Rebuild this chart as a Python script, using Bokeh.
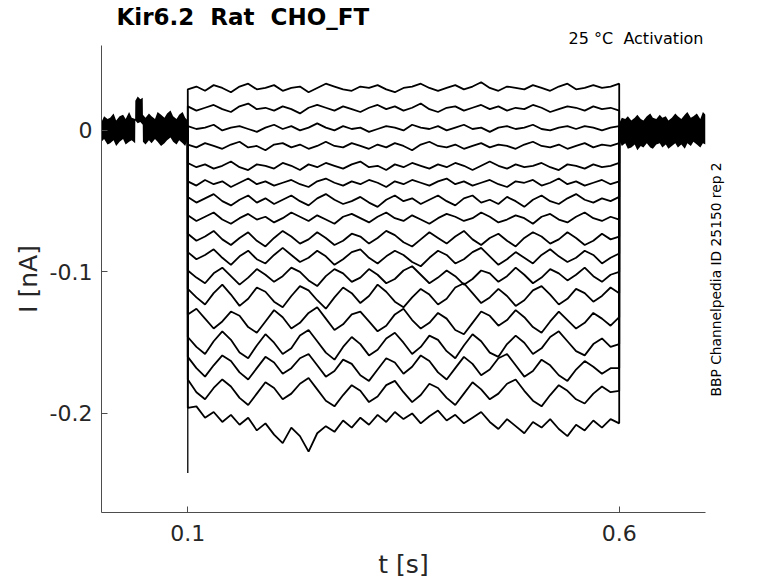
import numpy as np
from bokeh.embed import file_html
from bokeh.models import ColumnDataSource, FixedTicker, LinearAxis, Range1d, Title
from bokeh.plotting import figure
from bokeh.resources import INLINE

# time base of the voltage step (s)
step_t = [round(0.10 + 0.01 * k, 2) for k in range(51)]
step_on = 0.1
step_off = 0.6
onset_peak = -0.242

# holding current before the step: band edges (nA)
pre_t = [0.000, 0.003, 0.007, 0.010, 0.014, 0.017, 0.021, 0.025, 0.028, 0.032,
         0.035, 0.0390, 0.0392, 0.0420, 0.0450, 0.0478, 0.0480, 0.051, 0.055, 0.058,
         0.062, 0.065, 0.069, 0.073, 0.076, 0.080, 0.083, 0.087, 0.090, 0.094,
         0.097, 0.100]
pre_hi = [0.006, 0.010, 0.008, 0.009, 0.012, 0.007, 0.010, 0.011, 0.008, 0.013,
          0.009, 0.008, 0.021, 0.024, 0.022, 0.023, 0.011, 0.009, 0.012, 0.010,
          0.008, 0.013, 0.011, 0.009, 0.012, 0.014, 0.010, 0.008, 0.011, 0.013,
          0.009, 0.007]
pre_lo = [-0.008, -0.006, -0.010, -0.009, -0.007, -0.011, -0.008, -0.006, -0.010, -0.008,
          -0.007, -0.009, 0.007, 0.005, 0.006, 0.004, -0.008, -0.010, -0.007, -0.009,
          -0.006, -0.008, -0.011, -0.009, -0.007, -0.005, -0.008, -0.010, -0.007, -0.009,
          -0.011, -0.006]

# holding current after the step: band edges (nA)
post_t = [0.600, 0.603, 0.607, 0.610, 0.614, 0.618, 0.621, 0.625, 0.628, 0.632,
          0.636, 0.639, 0.643, 0.647, 0.650, 0.654, 0.657, 0.661, 0.665, 0.668,
          0.672, 0.676, 0.679, 0.683, 0.686, 0.690, 0.694, 0.697, 0.700]
post_hi = [0.005, 0.009, 0.008, 0.010, 0.007, 0.009, 0.011, 0.008, 0.007, 0.010,
           0.012, 0.009, 0.008, 0.011, 0.009, 0.010, 0.007, 0.009, 0.012, 0.010,
           0.008, 0.011, 0.013, 0.009, 0.010, 0.012, 0.008, 0.013, 0.011]
post_lo = [-0.007, -0.011, -0.009, -0.013, -0.012, -0.010, -0.014, -0.011, -0.012, -0.009,
           -0.012, -0.013, -0.010, -0.009, -0.012, -0.010, -0.013, -0.011, -0.009, -0.012,
           -0.010, -0.013, -0.009, -0.011, -0.008, -0.010, -0.012, -0.009, -0.010]

# current during the step, one sweep per test potential (nA)
i_step_01 = [0.029, 0.031, 0.028, 0.032, 0.030, 0.027, 0.031, 0.033, 0.029, 0.030,
             0.032, 0.028, 0.030, 0.031, 0.027, 0.030, 0.033, 0.031, 0.029, 0.028,
             0.031, 0.030, 0.032, 0.029, 0.027, 0.030, 0.031, 0.033, 0.030, 0.028,
             0.030, 0.032, 0.029, 0.031, 0.034, 0.030, 0.028, 0.031, 0.030, 0.029,
             0.032, 0.030, 0.028, 0.031, 0.033, 0.029, 0.030, 0.032, 0.030, 0.031, 0.033]
i_step_02 = [0.017, 0.014, 0.016, 0.018, 0.015, 0.013, 0.017, 0.019, 0.015, 0.016,
             0.014, 0.017, 0.015, 0.012, 0.016, 0.018, 0.016, 0.014, 0.017, 0.015,
             0.013, 0.016, 0.018, 0.015, 0.017, 0.014, 0.016, 0.019, 0.015, 0.013,
             0.016, 0.017, 0.014, 0.016, 0.018, 0.015, 0.017, 0.014, 0.016, 0.015,
             0.018, 0.016, 0.013, 0.015, 0.017, 0.016, 0.014, 0.017, 0.015, 0.016, 0.014]
i_step_03 = [0.003, 0.001, 0.002, 0.004, 0.000, 0.002, 0.003, 0.001, -0.001, 0.002,
             0.004, 0.001, 0.003, 0.000, 0.002, 0.005, 0.002, 0.000, 0.003, 0.001,
             0.002, -0.001, 0.001, 0.003, 0.002, 0.000, 0.004, 0.002, 0.001, 0.003,
             0.000, 0.002, 0.004, 0.001, 0.002, -0.001, 0.002, 0.003, 0.001, 0.002,
             0.004, 0.001, 0.000, 0.002, 0.003, 0.001, 0.003, 0.002, 0.000, 0.002, 0.003]
i_step_04 = [-0.010, -0.012, -0.009, -0.011, -0.013, -0.010, -0.008, -0.012, -0.011, -0.014,
             -0.010, -0.009, -0.012, -0.010, -0.013, -0.011, -0.008, -0.011, -0.012, -0.009,
             -0.011, -0.013, -0.010, -0.012, -0.009, -0.011, -0.014, -0.010, -0.008, -0.011,
             -0.012, -0.010, -0.013, -0.011, -0.009, -0.012, -0.010, -0.011, -0.013, -0.010,
             -0.008, -0.011, -0.012, -0.010, -0.013, -0.011, -0.009, -0.012, -0.010, -0.011, -0.009]
i_step_05 = [-0.023, -0.026, -0.024, -0.027, -0.025, -0.022, -0.026, -0.028, -0.024, -0.025,
             -0.027, -0.023, -0.025, -0.028, -0.024, -0.026, -0.023, -0.025, -0.027, -0.024,
             -0.022, -0.026, -0.025, -0.028, -0.024, -0.026, -0.023, -0.025, -0.027, -0.024,
             -0.026, -0.023, -0.025, -0.028, -0.025, -0.022, -0.025, -0.027, -0.024, -0.026,
             -0.025, -0.023, -0.026, -0.028, -0.024, -0.025, -0.027, -0.024, -0.026, -0.025, -0.023]
i_step_06 = [-0.036, -0.039, -0.035, -0.038, -0.036, -0.040, -0.037, -0.034, -0.038, -0.036,
             -0.039, -0.037, -0.035, -0.038, -0.040, -0.036, -0.034, -0.037, -0.039, -0.036,
             -0.038, -0.035, -0.037, -0.040, -0.036, -0.038, -0.035, -0.037, -0.039, -0.036,
             -0.034, -0.038, -0.036, -0.039, -0.037, -0.035, -0.038, -0.040, -0.036, -0.037,
             -0.035, -0.039, -0.037, -0.034, -0.038, -0.036, -0.039, -0.037, -0.035, -0.038, -0.036]
i_step_07 = [-0.047, -0.051, -0.048, -0.045, -0.050, -0.053, -0.049, -0.046, -0.051, -0.048,
             -0.052, -0.049, -0.046, -0.050, -0.053, -0.048, -0.045, -0.049, -0.052, -0.050,
             -0.047, -0.051, -0.054, -0.049, -0.046, -0.050, -0.048, -0.052, -0.049, -0.046,
             -0.050, -0.053, -0.048, -0.046, -0.051, -0.049, -0.052, -0.047, -0.050, -0.054,
             -0.049, -0.046, -0.050, -0.052, -0.048, -0.045, -0.049, -0.051, -0.048, -0.050, -0.047]
i_step_08 = [-0.060, -0.064, -0.061, -0.058, -0.063, -0.066, -0.062, -0.059, -0.063, -0.061,
             -0.065, -0.062, -0.058, -0.061, -0.064, -0.060, -0.063, -0.066, -0.061, -0.059,
             -0.062, -0.065, -0.061, -0.058, -0.062, -0.064, -0.060, -0.063, -0.066, -0.062,
             -0.059, -0.061, -0.064, -0.062, -0.058, -0.061, -0.065, -0.063, -0.060, -0.062,
             -0.066, -0.061, -0.059, -0.063, -0.065, -0.061, -0.058, -0.062, -0.064, -0.061, -0.063]
i_step_09 = [-0.073, -0.078, -0.075, -0.071, -0.077, -0.081, -0.076, -0.072, -0.078, -0.082,
             -0.076, -0.071, -0.075, -0.080, -0.077, -0.072, -0.076, -0.081, -0.078, -0.073,
             -0.075, -0.080, -0.076, -0.071, -0.074, -0.079, -0.082, -0.077, -0.072, -0.076,
             -0.080, -0.075, -0.071, -0.077, -0.081, -0.076, -0.073, -0.078, -0.082, -0.076,
             -0.072, -0.075, -0.080, -0.077, -0.072, -0.076, -0.081, -0.078, -0.073, -0.077, -0.075]
i_step_10 = [-0.086, -0.091, -0.088, -0.084, -0.090, -0.095, -0.089, -0.085, -0.091, -0.094,
             -0.088, -0.083, -0.088, -0.093, -0.090, -0.085, -0.089, -0.095, -0.091, -0.086,
             -0.084, -0.090, -0.094, -0.089, -0.085, -0.088, -0.093, -0.096, -0.090, -0.085,
             -0.088, -0.094, -0.091, -0.086, -0.083, -0.089, -0.095, -0.091, -0.086, -0.090,
             -0.094, -0.088, -0.084, -0.089, -0.093, -0.090, -0.085, -0.088, -0.094, -0.090, -0.087]
i_step_11 = [-0.099, -0.104, -0.108, -0.101, -0.097, -0.103, -0.109, -0.104, -0.098, -0.102,
             -0.107, -0.103, -0.097, -0.100, -0.106, -0.110, -0.103, -0.098, -0.101, -0.107,
             -0.104, -0.098, -0.102, -0.108, -0.105, -0.099, -0.096, -0.102, -0.108, -0.104,
             -0.099, -0.103, -0.109, -0.105, -0.099, -0.101, -0.107, -0.103, -0.097, -0.102,
             -0.108, -0.104, -0.098, -0.101, -0.106, -0.102, -0.097, -0.103, -0.107, -0.102, -0.100]
i_step_12 = [-0.112, -0.118, -0.123, -0.115, -0.109, -0.116, -0.124, -0.119, -0.111, -0.114,
             -0.121, -0.125, -0.117, -0.110, -0.113, -0.120, -0.126, -0.118, -0.111, -0.115,
             -0.122, -0.117, -0.109, -0.114, -0.121, -0.125, -0.118, -0.112, -0.116, -0.123,
             -0.119, -0.111, -0.108, -0.115, -0.122, -0.118, -0.112, -0.117, -0.124, -0.120,
             -0.113, -0.110, -0.116, -0.123, -0.119, -0.112, -0.115, -0.121, -0.117, -0.111, -0.115]
i_step_13 = [-0.130, -0.126, -0.133, -0.140, -0.135, -0.128, -0.131, -0.139, -0.143, -0.135,
             -0.127, -0.132, -0.140, -0.136, -0.129, -0.125, -0.133, -0.141, -0.137, -0.130,
             -0.128, -0.135, -0.142, -0.138, -0.130, -0.126, -0.134, -0.140, -0.136, -0.129,
             -0.133, -0.141, -0.144, -0.136, -0.128, -0.131, -0.138, -0.134, -0.127, -0.132,
             -0.139, -0.143, -0.135, -0.128, -0.134, -0.140, -0.136, -0.129, -0.133, -0.138, -0.132]
i_step_14 = [-0.146, -0.153, -0.158, -0.149, -0.142, -0.148, -0.157, -0.161, -0.152, -0.144,
             -0.150, -0.158, -0.154, -0.145, -0.141, -0.149, -0.157, -0.162, -0.153, -0.146,
             -0.151, -0.159, -0.155, -0.147, -0.143, -0.150, -0.158, -0.153, -0.145, -0.148,
             -0.156, -0.161, -0.152, -0.144, -0.149, -0.157, -0.160, -0.151, -0.145, -0.150,
             -0.158, -0.154, -0.146, -0.142, -0.149, -0.156, -0.159, -0.151, -0.147, -0.153, -0.151]
i_step_15 = [-0.160, -0.168, -0.174, -0.166, -0.159, -0.163, -0.171, -0.176, -0.168, -0.160,
             -0.164, -0.172, -0.168, -0.161, -0.158, -0.166, -0.174, -0.170, -0.162, -0.165,
             -0.173, -0.177, -0.169, -0.161, -0.164, -0.172, -0.167, -0.159, -0.163, -0.171,
             -0.176, -0.168, -0.160, -0.165, -0.173, -0.169, -0.161, -0.158, -0.166, -0.174,
             -0.170, -0.162, -0.166, -0.173, -0.177, -0.169, -0.163, -0.167, -0.172, -0.168, -0.168]
i_step_16 = [-0.176, -0.185, -0.190, -0.182, -0.176, -0.181, -0.189, -0.194, -0.186, -0.178,
             -0.182, -0.190, -0.186, -0.179, -0.175, -0.183, -0.191, -0.195, -0.187, -0.180,
             -0.184, -0.192, -0.188, -0.180, -0.177, -0.185, -0.192, -0.187, -0.179, -0.182,
             -0.189, -0.194, -0.186, -0.178, -0.183, -0.190, -0.186, -0.179, -0.176, -0.184,
             -0.191, -0.195, -0.187, -0.180, -0.184, -0.190, -0.193, -0.186, -0.181, -0.185, -0.184]
i_step_17 = [-0.196, -0.195, -0.203, -0.199, -0.206, -0.201, -0.208, -0.203, -0.212, -0.207,
             -0.215, -0.221, -0.210, -0.216, -0.227, -0.214, -0.209, -0.213, -0.205, -0.210,
             -0.203, -0.208, -0.201, -0.206, -0.199, -0.204, -0.200, -0.207, -0.202, -0.198,
             -0.205, -0.201, -0.207, -0.203, -0.199, -0.206, -0.211, -0.204, -0.209, -0.214,
             -0.206, -0.210, -0.204, -0.211, -0.216, -0.208, -0.212, -0.205, -0.210, -0.204, -0.207]

sweeps = [i_step_01, i_step_02, i_step_03, i_step_04, i_step_05, i_step_06,
          i_step_07, i_step_08, i_step_09, i_step_10, i_step_11, i_step_12,
          i_step_13, i_step_14, i_step_15, i_step_16, i_step_17]

FONT = "DejaVu Sans"
TXT = "#262626"
AX = "#4d4d4d"
NOTE = "BBP Channelpedia ID 25150 rep 2"
NOTE_START = -0.188  # lower end of the rotated side note (nA axis units)

p = figure(
    width=778, height=583,
    x_range=Range1d(0.0, 0.7), y_range=Range1d(-0.27, 0.06),
    output_backend="svg", toolbar_location=None, title=None,
    min_border_left=101, min_border_right=73,
    min_border_top=45, min_border_bottom=71,
)
p.outline_line_color = None
p.grid.visible = False

# holding segments (dense noise -> drawn as a band)
p.varea(x=pre_t, y1=pre_lo, y2=pre_hi, color="black")
p.varea(x=post_t, y1=post_lo, y2=post_hi, color="black")

# sweeps during the step, joined to 0 at both step edges
src = ColumnDataSource(dict(
    xs=[[step_on] + step_t + [step_off] for s in sweeps],
    ys=[[0.0] + s + [0.0] for s in sweeps],
))
p.multi_line(xs="xs", ys="ys", source=src, line_color="black", line_width=1.8)

# capacitive transient at step onset
p.segment(x0=[step_on], y0=[0.0], x1=[step_on], y1=[onset_peak],
          line_color="black", line_width=1.3)

# axes, MATLAB-like: ticks inside, no box
for ax in (p.xaxis[0], p.yaxis[0]):
    ax.axis_line_color = AX
    ax.major_tick_line_color = AX
    ax.major_tick_in = 6
    ax.major_tick_out = 0
    ax.minor_tick_line_color = None
    ax.major_label_text_font = FONT
    ax.major_label_text_font_size = "22px"
    ax.major_label_text_color = TXT
    ax.axis_label_text_font = FONT
    ax.axis_label_text_font_size = "25px"
    ax.axis_label_text_font_style = "normal"
    ax.axis_label_text_color = TXT

p.xaxis.ticker = FixedTicker(ticks=[0.1, 0.6])
p.yaxis.ticker = FixedTicker(ticks=[-0.2, -0.1, 0.0])
p.yaxis.major_label_overrides = {0: "0", -0.1: "-0.1", -0.2: "-0.2"}
p.xaxis.major_label_standoff = 12
p.xaxis.axis_label = "t [s]"
p.xaxis.axis_label_standoff = 6
p.yaxis.major_label_standoff = 9
p.yaxis.axis_label = "I [nA]"
p.yaxis.axis_label_standoff = 4

# side note on the right, reading bottom to top (an unticked label on a right axis)
note = LinearAxis(ticker=FixedTicker(ticks=[NOTE_START]), axis_line_color=None,
                  major_tick_line_color=None, minor_tick_line_color=None,
                  major_tick_in=0, major_tick_out=0,
                  major_label_overrides={NOTE_START: NOTE},
                  major_label_orientation=np.pi / 2, major_label_standoff=11,
                  major_label_text_font=FONT, major_label_text_font_size="13.8px",
                  major_label_text_color="black")
p.add_layout(note, "right")

# header: condition (inner row) and title (outer row)
p.add_layout(Title(text="25 °C \u00a0Activation", align="right", offset=2, standoff=-5,
                   text_font=FONT, text_font_size="16px", text_font_style="normal",
                   text_color="black"), "above")
p.add_layout(Title(text="Kir6.2 \u00a0Rat \u00a0CHO_FT", align="left", offset=15, standoff=0,
                   text_font=FONT, text_font_size="23px", text_font_style="bold",
                   text_color="black"), "above")

open("out.html", "w").write(file_html(p, INLINE))
